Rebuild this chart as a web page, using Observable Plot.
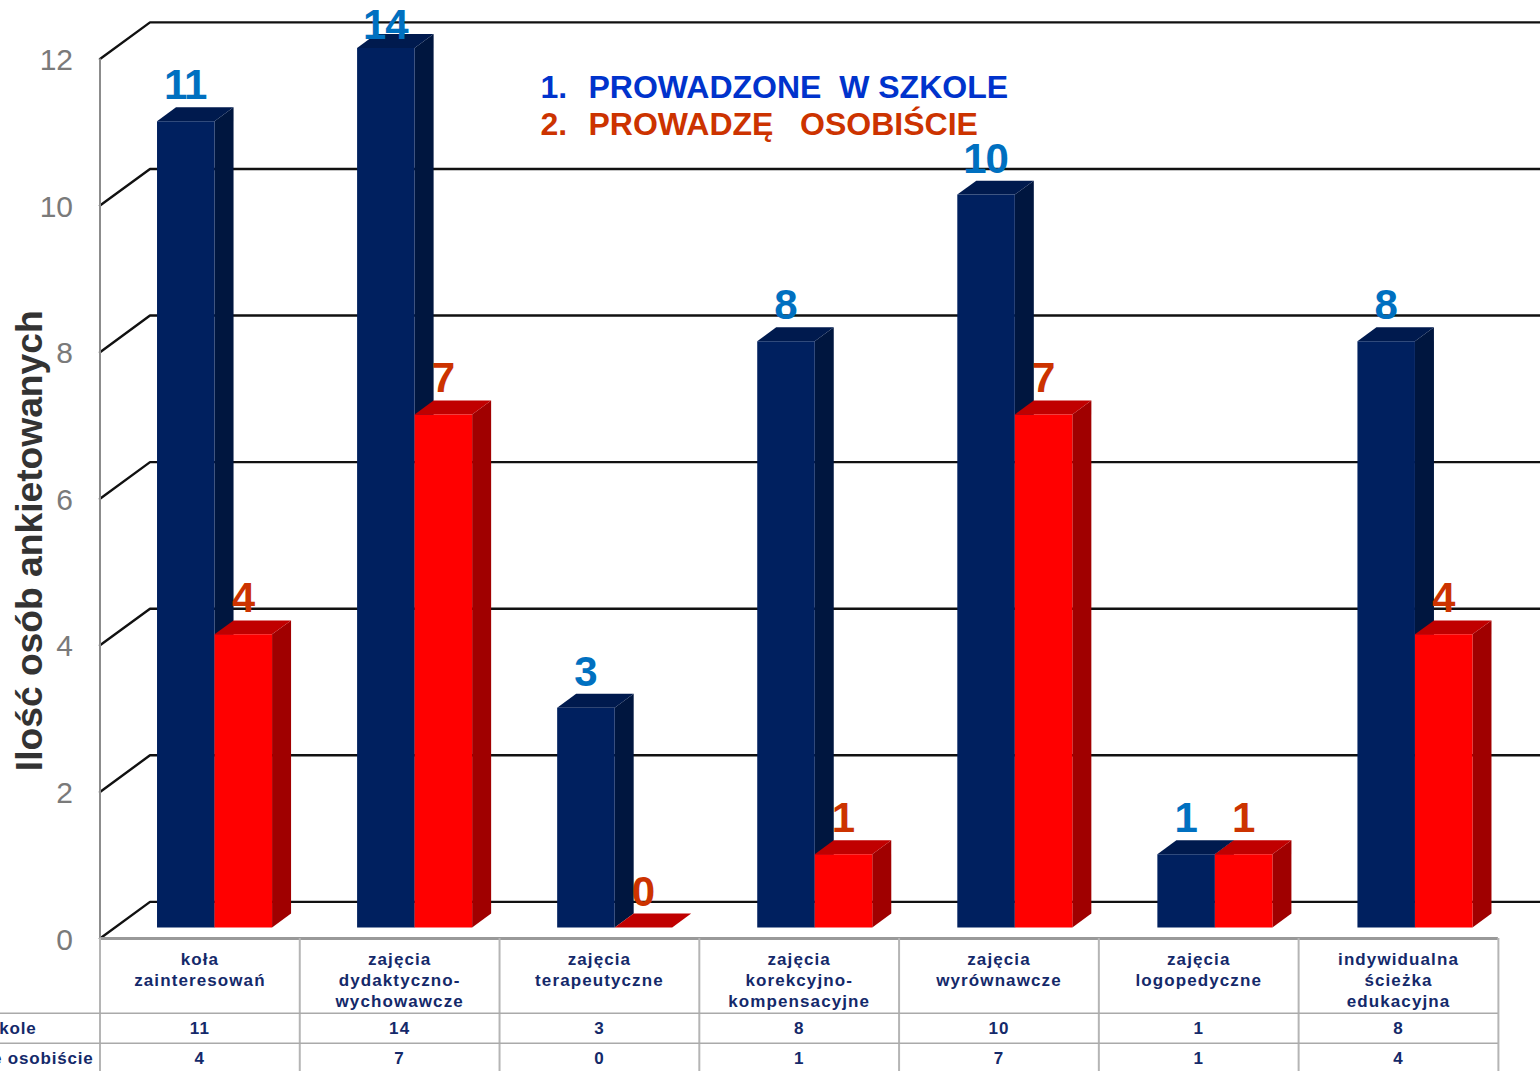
<!DOCTYPE html>
<html lang="pl">
<head>
<meta charset="utf-8">
<script src="https://cdn.jsdelivr.net/npm/d3@7"></script>
<script src="https://cdn.jsdelivr.net/npm/@observablehq/plot@0.6"></script>
<style>
html,body{margin:0;padding:0;background:#fff;overflow:hidden}
.num text{letter-spacing:-1px}
.tbl text{letter-spacing:1.1px}
.rowname text{letter-spacing:.8px}
</style>
</head>
<body>
<div id="chart"></div>
<script>
const categories = [
  "koła\nzainteresowań",
  "zajęcia\ndydaktyczno-\nwychowawcze",
  "zajęcia\nterapeutyczne",
  "zajęcia\nkorekcyjno-\nkompensacyjne",
  "zajęcia\nwyrównawcze",
  "zajęcia\nlogopedyczne",
  "indywidualna\nścieżka\nedukacyjna"
];
const prowadzone = [11, 14, 3, 8, 10, 1, 8];
const osobiscie = [4, 7, 0, 1, 7, 1, 4];
const rowNames = ["kole", "e osobiście"];
const yTicks = [0, 2, 4, 6, 8, 10, 12];

const yMax = 12;
const labelCap = 11.82;
const skewX = 0.25, skewY = 0.5;           // projection of depth onto the plane
const barWidth = 0.2875, barStart = 0.21;
const depthFront = 0.3, depthBack = 0.68;
const px = (x, d) => x + skewX * d;
const py = (v, d) => v + skewY * d;

const palette = [
  {front: "#00205f", top: "#001a4e", side: "#00163f", text: "#0070c0", color: "#0033cc"},
  {front: "#ff0000", top: "#c00000", side: "#a00000", text: "#cc3300", color: "#cc3300"}
];

// faces of the 3D bars, projected from the data values
const faces = [];
const labels = [];
categories.forEach((c, i) => {
  [prowadzone[i], osobiscie[i]].forEach((value, s) => {
    const v = Math.min(value, yMax);
    const x0 = i + barStart + s * barWidth, x1 = x0 + barWidth;
    const p = palette[s];
    const add = (id, fill, pts) => pts.forEach(([x, y, d]) =>
      faces.push({id: `${i}-${s}-${id}`, fill, x: px(x, d), y: py(y, d)}));
    add("side", p.side, [[x1, 0, depthFront], [x1, 0, depthBack], [x1, v, depthBack], [x1, v, depthFront]]);
    add("top", p.top, [[x0, v, depthFront], [x0, v, depthBack], [x1, v, depthBack], [x1, v, depthFront]]);
    if (v > 0) add("front", p.front, [[x0, 0, depthFront], [x1, 0, depthFront], [x1, v, depthFront], [x0, v, depthFront]]);
    labels.push({
      x: px((x0 + x1) / 2, depthFront),
      y: py(Math.min(value, labelCap), depthFront),
      text: String(value), fill: p.text
    });
  });
});

// back wall grid + side wall diagonals
const grid = yTicks.flatMap(v => [
  {v, x: px(0, 0), y: py(v, 0)},
  {v, x: px(0, 1), y: py(v, 1)},
  {v, x: 7.2, y: py(v, 1)}
]);

const rowTop = -1.02, rowMid = -1.43, rowEnd = -1.84;
const columnUnit = 0.9985;
const columns = d3.range(0, categories.length + 1).map(i => i * columnUnit);
const tableRight = categories.length * columnUnit;
const cx = i => (i + 0.5) * columnUnit;
const rowA = (rowTop + rowMid) / 2, rowB = (rowMid + rowEnd) / 2;

const sans = "Liberation Sans, Arial, sans-serif";
const tableText = {fontFamily: sans, fontWeight: "bold", fontSize: 17, fill: "#14296a", className: "tbl"};
const legendText = {frameAnchor: "top-left", text: d => d, lineAnchor: "middle", textAnchor: "start", fontSize: 32, fontWeight: "bold", fontFamily: sans};

const plot = Plot.plot({
  width: 1540, height: 1071,
  marginLeft: 99.5, marginRight: 0, marginTop: 58.5, marginBottom: 133,
  x: {domain: [0, 7.2], axis: null},
  y: {domain: [0, yMax], axis: null},
  style: {overflow: "visible", background: "#fff"},
  marks: [
    Plot.line(grid, {x: "x", y: "y", z: "v", stroke: "#111", strokeWidth: 2.4}),
    Plot.ruleX([0], {y1: 0, y2: yMax, stroke: "#8c8c8c", strokeWidth: 2}),
    Plot.line(faces, {x: "x", y: "y", z: "id", fill: "fill", stroke: null}),
    Plot.ruleY([0], {x1: 0, x2: tableRight, stroke: "#999", strokeWidth: 3}),
    Plot.ruleX(columns, {y1: 0, y2: rowEnd, stroke: "#b5b5b5", strokeWidth: 2}),
    Plot.ruleY([rowTop, rowMid], {x1: -0.5, x2: tableRight, stroke: "#aaa", strokeWidth: 1.6}),
    Plot.axisY({ticks: yTicks, tickSize: 0, tickPadding: 27, dy: 1.5, tickFormat: d => d, fontSize: 30, fill: "#7a7a7a", fontFamily: sans, label: null}),
    Plot.text(["Ilość osób ankietowanych"], {
      frameAnchor: "left", textAnchor: "middle", dx: -70, dy: 42, rotate: -90, text: d => d,
      fontSize: 37.2, fontWeight: "bold", fill: "#333", fontFamily: sans
    }),
    Plot.text(labels, {
      x: "x", y: "y", text: "text", fill: "fill", dx: -0.5, dy: -22, lineAnchor: "bottom", className: "num",
      fontSize: 42, fontWeight: "bold", fontFamily: sans
    }),
    Plot.text(["1."], {dx: 440.5, dy: 28.5, fill: palette[0].color, ...legendText}),
    Plot.text(["PROWADZONE\u00a0\u00a0W SZKOLE"], {dx: 488.5, dy: 28.5, fill: palette[0].color, ...legendText}),
    Plot.text(["2."], {dx: 440.5, dy: 65.5, fill: palette[1].color, ...legendText}),
    Plot.text(["PROWADZĘ\u00a0\u00a0\u00a0OSOBIŚCIE"], {dx: 488.5, dy: 65.5, fill: palette[1].color, ...legendText}),
    Plot.text(categories, {x: (d, i) => cx(i), y: 0, dy: 11.5, text: d => d, lineAnchor: "top", lineHeight: 1.24, ...tableText}),
    Plot.text(prowadzone, {x: (d, i) => cx(i), y: rowA, text: d => String(d), ...tableText}),
    Plot.text(osobiscie, {x: (d, i) => cx(i), y: rowB, text: d => String(d), ...tableText}),
    Plot.text([rowNames[0]], {x: 0, y: rowA, dx: -63.5, text: d => d, textAnchor: "end", ...tableText, className: "rowname"}),
    Plot.text([rowNames[1]], {x: 0, y: rowB, dx: -6.5, text: d => d, textAnchor: "end", ...tableText, className: "rowname"})
  ]
});
document.getElementById("chart").appendChild(plot);
</script>
</body>
</html>
